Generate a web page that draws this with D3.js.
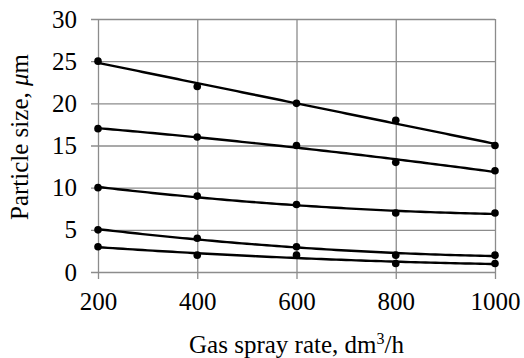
<!DOCTYPE html>
<html>
<head>
<meta charset="utf-8">
<script src="https://cdn.jsdelivr.net/npm/d3@7"></script>
<style>
  body { margin: 0; background: #fff; }
  svg { display: block; }
  text { font-family: 'Liberation Serif', 'Times New Roman', serif; }
  .grid line { stroke: #8c8c8c; stroke-width: 1.3; }
  .grid text { fill: #000; font-size: 25px; }
  .fit { fill: none; stroke: #000; stroke-width: 2.4; }
</style>
</head>
<body>
<svg width="524" height="358"></svg>
<script>
const width = 524;
const height = 358;

const margin = { top: 19, right: 29, bottom: 86, left: 98 };

// data
const rates = [200, 400, 600, 800, 1000];
const size1 = [25, 22, 20, 18, 15];
const size2 = [17, 16, 15, 13, 12];
const size3 = [10, 9, 8, 7, 7];
const size4 = [5, 4, 3, 2, 2];
const size5 = [3, 2, 2, 1, 1];
const series = [size1, size2, size3, size4, size5];

const xTicks = [200, 400, 600, 800, 1000];
const yTicks = [0, 5, 10, 15, 20, 25, 30];

const svg = d3.select("svg");
const plotW = width - margin.left - margin.right;
const plotH = height - margin.top - margin.bottom;

const xScale = d3.scaleLinear()
    .domain([200, 1000])
    .range([margin.left, width - margin.right]);

const yScale = d3.scaleLinear()
    .domain([0, 30])
    .range([height - margin.bottom, margin.top]);

// y grid + ticks (ticks stick out 7px left)
svg.append("g")
    .attr("class", "grid")
    .attr("transform", `translate(${margin.left - 7},0)`)
    .call(d3.axisLeft(yScale)
        .tickValues(yTicks)
        .tickFormat(d3.format("d"))
        .tickSizeInner(-(plotW + 7))
        .tickSizeOuter(0)
        .tickPadding(14))
    .call(g => g.select(".domain").remove());

// x grid + ticks (ticks stick out 7px below)
svg.append("g")
    .attr("class", "grid")
    .attr("transform", `translate(0,${height - margin.bottom + 7})`)
    .call(d3.axisBottom(xScale)
        .tickValues(xTicks)
        .tickFormat(d3.format("d"))
        .tickSizeInner(-(plotH + 7))
        .tickSizeOuter(0)
        .tickPadding(13))
    .call(g => g.select(".domain").remove());

// quadratic least-squares trendline through each series
function quadFit(xs, ys) {
    let s = [0, 0, 0, 0, 0], t = [0, 0, 0];
    xs.forEach((x, i) => {
        for (let k = 0; k < 5; k++) s[k] += Math.pow(x, k);
        for (let k = 0; k < 3; k++) t[k] += Math.pow(x, k) * ys[i];
    });
    const A = [[s[0], s[1], s[2], t[0]], [s[1], s[2], s[3], t[1]], [s[2], s[3], s[4], t[2]]];
    for (let i = 0; i < 3; i++) {
        for (let j = i + 1; j < 3; j++) {
            const f = A[j][i] / A[i][i];
            for (let k = i; k < 4; k++) A[j][k] -= f * A[i][k];
        }
    }
    const c = [0, 0, 0];
    for (let i = 2; i >= 0; i--) {
        let v = A[i][3];
        for (let k = i + 1; k < 3; k++) v -= A[i][k] * c[k];
        c[i] = v / A[i][i];
    }
    return x => c[0] + c[1] * x + c[2] * x * x;
}

const line = d3.line()
    .x(d => xScale(d[0]))
    .y(d => yScale(d[1]));

series.forEach(vals => {
    const f = quadFit(rates, vals);
    const pts = d3.range(200, 1001, 10).map(x => [x, f(x)]);
    svg.append("path")
        .datum(pts)
        .attr("class", "fit")
        .attr("d", line);

    svg.append("g")
        .selectAll("circle")
        .data(rates.map((r, i) => [r, vals[i]]))
        .join("circle")
        .attr("cx", d => xScale(d[0]))
        .attr("cy", d => yScale(d[1]))
        .attr("r", 3.8)
        .attr("fill", "#000");
});

// x axis label
const xLabel = svg.append("text")
    .attr("x", (margin.left + width - margin.right) / 2)
    .attr("y", 353)
    .attr("text-anchor", "middle")
    .style("font-size", "25px");
xLabel.append("tspan").text("Gas spray rate, dm");
xLabel.append("tspan").attr("dy", -9).style("font-size", "16px").text("3");
xLabel.append("tspan").attr("dy", 9).text("/h");

// y axis label
const yLabel = svg.append("text")
    .attr("transform", "rotate(-90)")
    .attr("x", -137)
    .attr("y", 28)
    .attr("text-anchor", "middle")
    .style("font-size", "25px");
yLabel.append("tspan").text("Particle size, ");
yLabel.append("tspan").style("font-style", "italic").text("μ");
yLabel.append("tspan").text("m");
</script>
</body>
</html>
